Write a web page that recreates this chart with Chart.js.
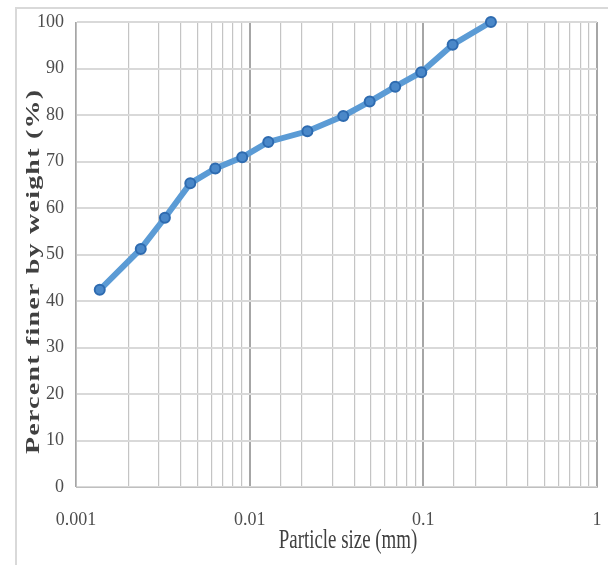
<!DOCTYPE html>
<html>
<head>
<meta charset="utf-8">
<script src="https://cdn.jsdelivr.net/npm/chart.js@4.4.1/dist/chart.umd.min.js"></script>
<style>
  html, body { margin: 0; padding: 0; background: #ffffff; }
  canvas { display: block; }
</style>
</head>
<body>
<canvas id="c" width="608" height="565"></canvas>
<script>
// ---- data ----
const particleSize = [0.00137, 0.00236, 0.00325, 0.00455, 0.00634, 0.00906, 0.0128, 0.0215, 0.0346, 0.0491, 0.0689, 0.0973, 0.1475, 0.245];
const percentFiner = [42.4, 51.2, 57.9, 65.3, 68.5, 70.9, 74.2, 76.5, 79.8, 82.9, 86.1, 89.2, 95.1, 100];
const xTickLabels = ['0.001', '0.01', '0.1', '1'];
const yTickValues = [0, 10, 20, 30, 40, 50, 60, 70, 80, 90, 100];
const xTitle = 'Particle size (mm)';
const yTitle = 'Percent finer by weight (%)';

const points = particleSize.map((x, i) => ({ x: x, y: percentFiner[i] }));

function isDecade(v) {
  const l = Math.log10(v);
  return Math.abs(l - Math.round(l)) < 1e-6;
}

const decorPlugin = {
  id: 'decor',
  beforeDraw(chart) {
    const ctx = chart.ctx;
    ctx.save();
    ctx.strokeStyle = '#d9d9d9';
    ctx.lineWidth = 2;
    ctx.strokeRect(16, 8, 700, 700);
    ctx.restore();
  },
  afterDraw(chart) {
    const ctx = chart.ctx;
    // x title
    ctx.save();
    ctx.fillStyle = '#404040';
    ctx.font = '27px "Liberation Serif", "Times New Roman", serif';
    ctx.textAlign = 'center';
    ctx.textBaseline = 'middle';
    ctx.translate(348, 541);
    ctx.scale(0.7, 1);
    ctx.fillText(xTitle, 0, 0);
    ctx.restore();
    // y title (bold, slightly letter-spaced, condensed across)
    ctx.save();
    ctx.fillStyle = '#404040';
    ctx.font = 'bold 28px "Liberation Serif", "Times New Roman", serif';
    const n = yTitle.length;
    const natural = ctx.measureText(yTitle).width;
    const target = 364;
    const ls = Math.max(0, (target - natural) / (n - 1));
    ctx.letterSpacing = ls.toFixed(2) + 'px';
    ctx.textAlign = 'center';
    ctx.textBaseline = 'middle';
    ctx.translate(34, 272);
    ctx.scale(0.68, 1);
    ctx.rotate(-Math.PI / 2);
    ctx.fillText(yTitle, ls / 2, 0);
    ctx.restore();
  }
};

new Chart(document.getElementById('c'), {
  type: 'scatter',
  data: {
    datasets: [{
      data: points,
      showLine: true,
      borderColor: '#5b9bd5',
      borderWidth: 6,
      backgroundColor: '#4a88c9',
      pointBackgroundColor: '#4a88c9',
      pointBorderColor: '#2e6bb0',
      pointBorderWidth: 2,
      pointRadius: 5,
      tension: 0,
      clip: false
    }]
  },
  options: {
    responsive: false,
    animation: false,
    devicePixelRatio: 1,
    layout: { padding: { top: 22, right: 11, left: 0, bottom: 0 } },
    plugins: { legend: { display: false }, tooltip: { enabled: false } },
    scales: {
      x: {
        type: 'logarithmic',
        min: 0.001,
        max: 1,
        afterFit(s) { s.height = 78; s.paddingRight = 0; s.paddingLeft = 0; },
        border: { display: true, color: '#bfbfbf', width: 1 },
        grid: {
          drawTicks: false,
          color(c) { return c.tick && isDecade(c.tick.value) ? '#a6a6a6' : '#c4c4c4'; },
          lineWidth(c) { return c.tick && isDecade(c.tick.value) ? 2 : 1.2; }
        },
        ticks: {
          padding: 22,
          maxRotation: 0,
          autoSkip: false,
          color: '#4d4d4d',
          font: { family: '"Liberation Serif", "Times New Roman", serif', size: 18 },
          callback(v) {
            if (!isDecade(v)) return '';
            const idx = Math.round(Math.log10(v)) + 3;
            return xTickLabels[idx] !== undefined ? xTickLabels[idx] : '';
          }
        }
      },
      y: {
        min: 0,
        max: 100,
        afterFit(s) { s.width = 76; s.paddingTop = 0; s.paddingBottom = 0; },
        afterBuildTicks(s) { s.ticks = yTickValues.map(v => ({ value: v })); },
        border: { display: true, color: '#bfbfbf', width: 1 },
        grid: { drawTicks: false, color: '#d9d9d9', lineWidth: 2 },
        ticks: {
          padding: 12,
          color: '#4d4d4d',
          font: { family: '"Liberation Serif", "Times New Roman", serif', size: 18 }
        }
      }
    }
  },
  plugins: [decorPlugin]
});
</script>
</body>
</html>
